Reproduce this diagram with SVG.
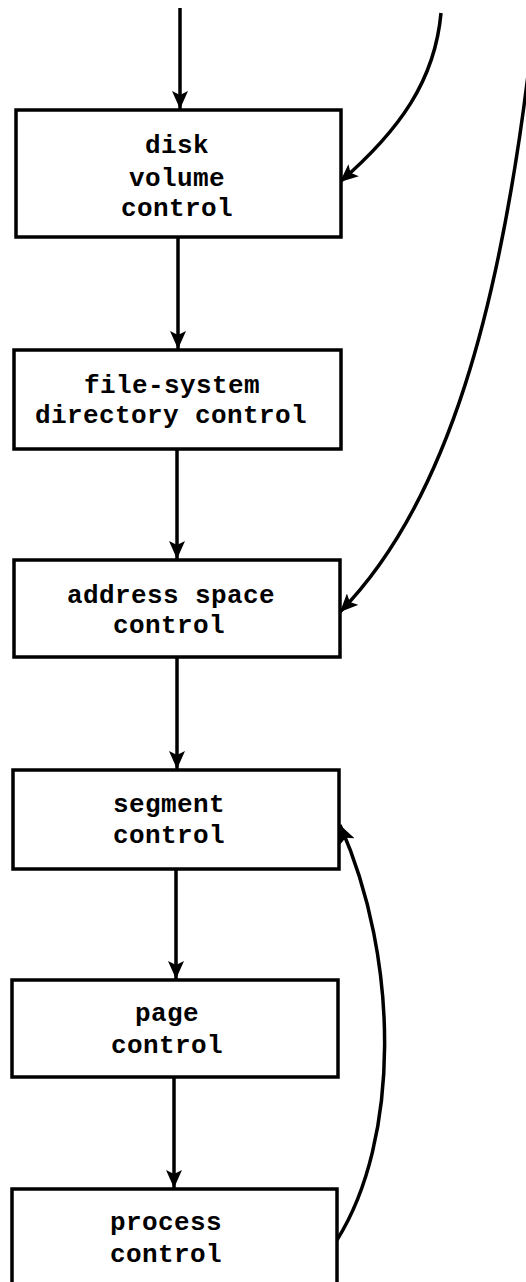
<svg xmlns="http://www.w3.org/2000/svg" width="526" height="1282" viewBox="0 0 526 1282">
<defs>
<style>
.box{fill:#fff;stroke:#000;stroke-width:3.5}
.lbl{font-family:"Liberation Mono","DejaVu Sans Mono",monospace;font-weight:bold;font-size:26px;letter-spacing:0.4px;text-anchor:middle;fill:#000}
.edge{fill:none;stroke:#000;stroke-width:3.5}
.curve{fill:none;stroke:#000;stroke-width:3.5}
</style>
<marker id="ah" markerUnits="userSpaceOnUse" markerWidth="20" markerHeight="16" refX="18" refY="8" orient="auto">
<path d="M0,0 L18,8 L0,16 L4,8 Z" fill="#000"/>
</marker>
</defs>
<rect width="526" height="1282" fill="#fff"/>
<g id="connectors">
<line class="edge" x1="180" y1="8" x2="180" y2="109" marker-end="url(#ah)"/>
<line class="edge" x1="178" y1="238" x2="178" y2="349" marker-end="url(#ah)"/>
<line class="edge" x1="177" y1="449" x2="177" y2="559" marker-end="url(#ah)"/>
<line class="edge" x1="177" y1="657" x2="177" y2="769" marker-end="url(#ah)"/>
<line class="edge" x1="176" y1="869" x2="176" y2="979" marker-end="url(#ah)"/>
<line class="edge" x1="174" y1="1077" x2="174" y2="1188" marker-end="url(#ah)"/>
<path class="curve" d="M441,13 C435,80 400,130 340,182" marker-end="url(#ah)"/>
<path class="curve" d="M528,75 C500,300 450,500 340,612" marker-end="url(#ah)"/>
<path class="curve" d="M337,1240 C400,1140 400,960 340,825" marker-end="url(#ah)"/>
</g>
<g id="disk-volume-control">
<rect class="box" x="16" y="110" width="325" height="127"/>
<text class="lbl" x="177" y="153">disk</text>
<text class="lbl" x="177" y="186">volume</text>
<text class="lbl" x="177" y="216">control</text>
</g>
<g id="file-system-directory-control">
<rect class="box" x="14" y="350" width="327" height="99"/>
<text class="lbl" x="172" y="393">file-system</text>
<text class="lbl" x="171" y="423">directory control</text>
</g>
<g id="address-space-control">
<rect class="box" x="14" y="560" width="326" height="97"/>
<text class="lbl" x="171" y="603">address space</text>
<text class="lbl" x="169" y="633">control</text>
</g>
<g id="segment-control">
<rect class="box" x="13" y="770" width="326" height="99"/>
<text class="lbl" x="169" y="812">segment</text>
<text class="lbl" x="169" y="843">control</text>
</g>
<g id="page-control">
<rect class="box" x="12" y="980" width="326" height="97"/>
<text class="lbl" x="167" y="1021">page</text>
<text class="lbl" x="167" y="1053">control</text>
</g>
<g id="process-control">
<rect class="box" x="12" y="1189" width="325" height="120"/>
<text class="lbl" x="166" y="1230">process</text>
<text class="lbl" x="166" y="1262">control</text>
</g>
</svg>
